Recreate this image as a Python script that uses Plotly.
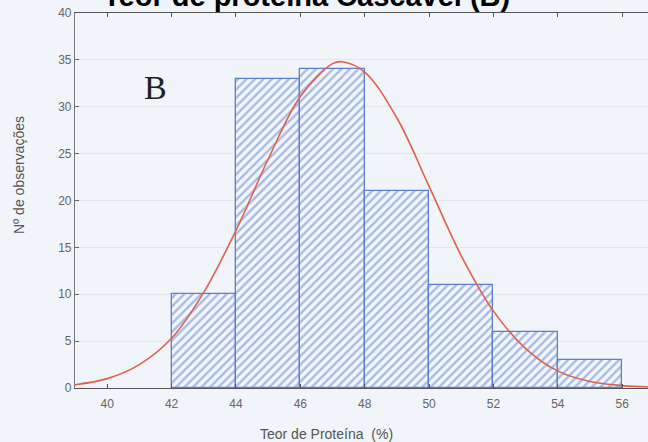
import plotly.graph_objects as go

# Histogram bins (protein content, %) and counts
bin_left = [42, 44, 46, 48, 50, 52, 54]
counts = [10, 33, 34, 21, 11, 6, 3]
bin_width = 2

# Fitted normal curve
curve_x = [39, 40, 41, 42, 43, 44, 45, 46, 47, 47.3, 48, 49, 50, 51, 52, 53, 54, 55, 56, 56.8]
curve_y = [0.35, 1.0, 2.5, 5.3, 10.2, 16.8, 24.4, 31.1, 34.6, 34.8, 33.7, 28.8, 21.5, 14.1, 8.2, 4.2, 1.8, 0.7, 0.25, 0.1]

x_ticks = [40, 42, 44, 46, 48, 50, 52, 54, 56]
y_ticks = [0, 5, 10, 15, 20, 25, 30, 35, 40]

bar_x = [b + bin_width / 2 for b in bin_left]

fig = go.Figure()
fig.add_trace(go.Bar(
    x=bar_x, y=counts, width=[bin_width] * len(counts),
    marker=dict(
        color="#f3f6fb",
        line=dict(color="#5a7fd0", width=1.3),
        pattern=dict(shape="/", fgcolor="#5a7fd0", bgcolor="#f3f6fb", size=6, solidity=0.4),
    ),
    showlegend=False,
))
fig.add_trace(go.Scatter(
    x=curve_x, y=curve_y, mode="lines", line=dict(color="#e0604c", width=1.6, shape="spline"),
    showlegend=False,
))

axis_font = dict(family="Liberation Sans, Arial", size=12, color="#666666")
label_font = dict(family="Liberation Sans, Arial", size=14, color="#555555")

L, T, B = 75, 13, 54
PW, PH = 648 - L, 442 - T - B

fig.update_layout(
    width=648, height=442,
    margin=dict(l=L, r=0, t=T, b=B),
    paper_bgcolor="#f1f4f8",
    plot_bgcolor="#f1f4f8",
    bargap=0,
    xaxis=dict(
        range=[39.0, 56.8], tickvals=x_ticks, ticktext=[str(v) for v in x_ticks],
        ticks="inside", ticklen=4, tickcolor="#555555",
        showline=True, linecolor="#555555", linewidth=1.2, mirror="ticks",
        showgrid=False, zeroline=False, tickfont=axis_font, ticklabelstandoff=4,
    ),
    yaxis=dict(
        range=[0, 40], tickvals=y_ticks,
        ticks="inside", ticklen=4, tickcolor="#666666",
        showline=True, linecolor="#777777", linewidth=1.2,
        showgrid=True, gridcolor="#e3e7ee", gridwidth=1, zeroline=False, tickfont=axis_font,
    ),
    annotations=[
        dict(text="<b>Teor de proteína Cascavel (B)</b>", xref="paper", yref="paper",
             x=(306 - L) / PW, y=1.0, yshift=-1, xanchor="center", yanchor="bottom", showarrow=False,
             font=dict(family="Liberation Sans, Arial", size=29, color="#000000")),
        dict(text="B", xref="x", yref="y", x=41.5, y=32.1, xanchor="center", yanchor="middle",
             showarrow=False, font=dict(family="Liberation Serif, Times New Roman", size=34, color="#222222")),
        dict(text="Nº de observações", xref="paper", yref="paper",
             x=(19 - L) / PW, y=(388 - 175) / PH, xanchor="center", yanchor="middle",
             textangle=-90, showarrow=False, font=label_font),
        dict(text="Teor de Proteína  (%)", xref="paper", yref="paper",
             x=(326 - L) / PW, y=(388 - 434) / PH, xanchor="center", yanchor="middle",
             showarrow=False, font=label_font),
    ],
)

fig.write_html("out.html", config={"displayModeBar": False},
               post_script="document.body.style.margin='0';document.body.style.overflow='hidden';")
